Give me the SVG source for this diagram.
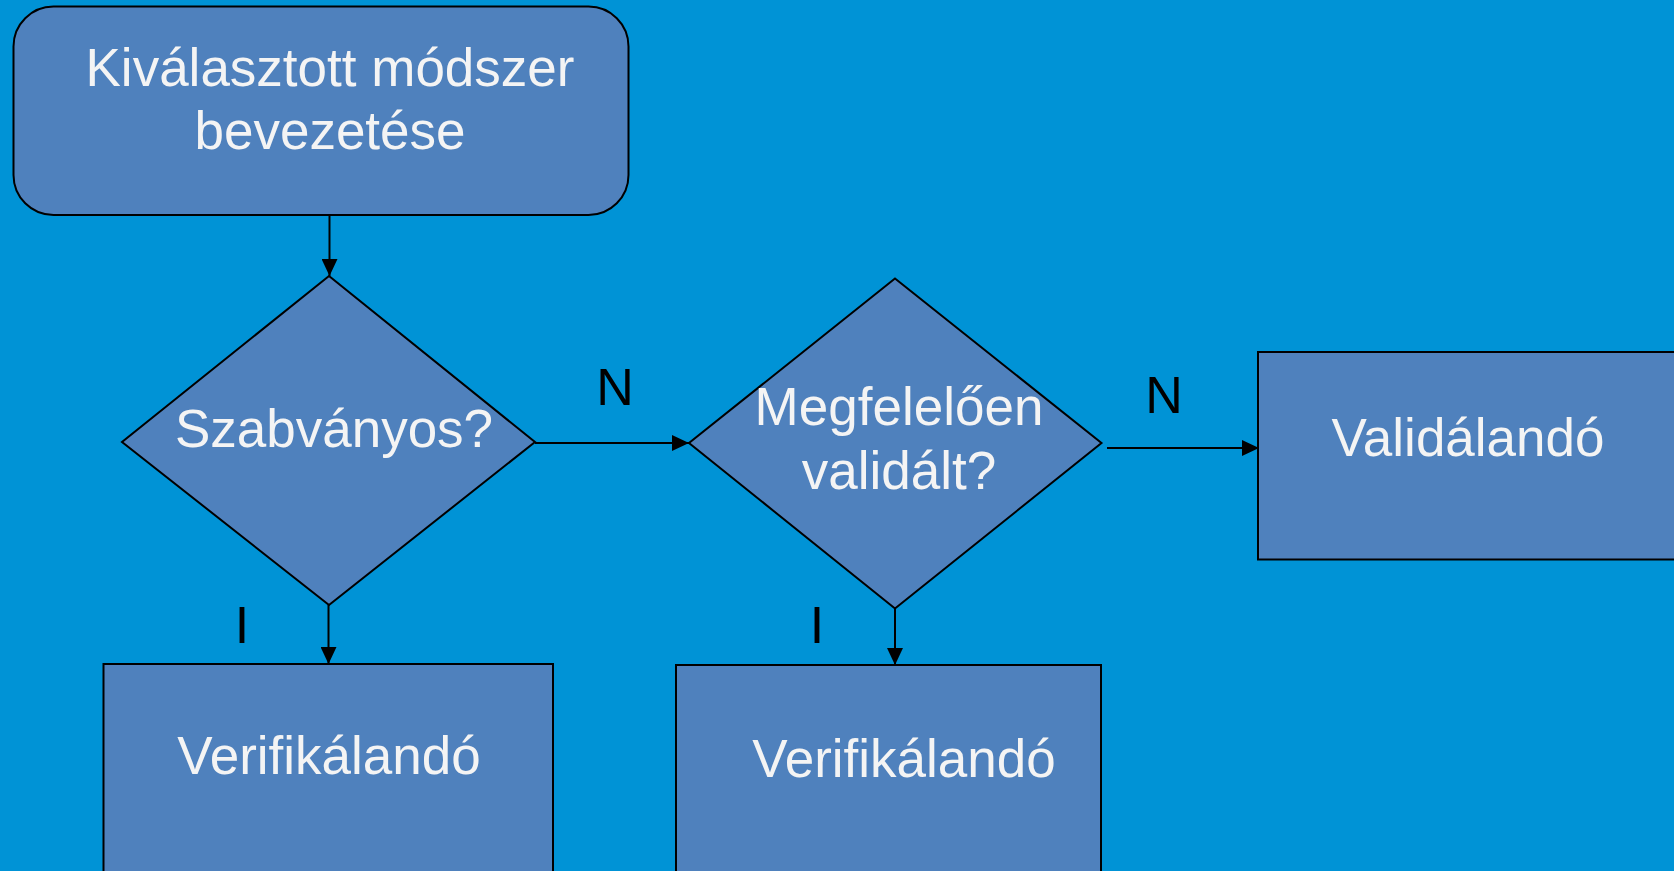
<svg xmlns="http://www.w3.org/2000/svg" width="1674" height="871" viewBox="0 0 1674 871">
<style>
.node{fill:#4F81BD;stroke:#000;stroke-width:2}
.lbl{font-family:"Liberation Sans",Arial,sans-serif;font-size:53px;fill:#F4F4F4;text-anchor:middle}
.edge{stroke:#000;stroke-width:2;fill:none;marker-end:url(#arr)}
.elbl{font-family:"Liberation Sans",Arial,sans-serif;font-size:52px;fill:#000;text-anchor:middle}
</style>
<defs>
<marker id="arr" markerUnits="userSpaceOnUse" markerWidth="17" markerHeight="16" refX="17" refY="8" orient="auto">
<path d="M0,0 L17,8 L0,16 Z" fill="#000"/>
</marker>
</defs>
<rect width="1674" height="871" fill="#0093D6"/>
<g id="start">
<rect class="node" x="13.5" y="6.5" width="615" height="208.5" rx="40" ry="40"/>
<text class="lbl" x="330" y="86">Kiválasztott módszer</text>
<text class="lbl" x="330" y="149">bevezetése</text>
</g>
<g id="d1">
<polygon class="node" points="329,276 535,442 329,605 122,442"/>
<text class="lbl" x="334" y="447">Szabványos?</text>
</g>
<g id="d2">
<polygon class="node" points="895,278.5 1101.5,443 895,608.5 689,443"/>
<text class="lbl" x="899" y="425">Megfelelően</text>
<text class="lbl" x="899" y="489">validált?</text>
</g>
<g id="valid">
<rect class="node" x="1258" y="352" width="430" height="207.5"/>
<text class="lbl" x="1468" y="456">Validálandó</text>
</g>
<g id="verif1">
<rect class="node" x="103.5" y="664" width="449.5" height="230"/>
<text class="lbl" x="329" y="774">Verifikálandó</text>
</g>
<g id="verif2">
<rect class="node" x="676" y="665" width="425" height="230"/>
<text class="lbl" x="904" y="777">Verifikálandó</text>
</g>
<g id="connectors">
<line class="edge" x1="329.5" y1="215" x2="329.5" y2="276"/>
<line class="edge" x1="535" y1="443" x2="689" y2="443"/>
<line class="edge" x1="1107" y1="448" x2="1259" y2="448"/>
<line class="edge" x1="328.5" y1="605" x2="328.5" y2="664"/>
<line class="edge" x1="895" y1="608.5" x2="895" y2="665"/>
<text class="elbl" x="615" y="405">N</text>
<text class="elbl" x="1164" y="413">N</text>
<text class="elbl" x="242" y="643">I</text>
<text class="elbl" x="817" y="643">I</text>
</g>
</svg>
